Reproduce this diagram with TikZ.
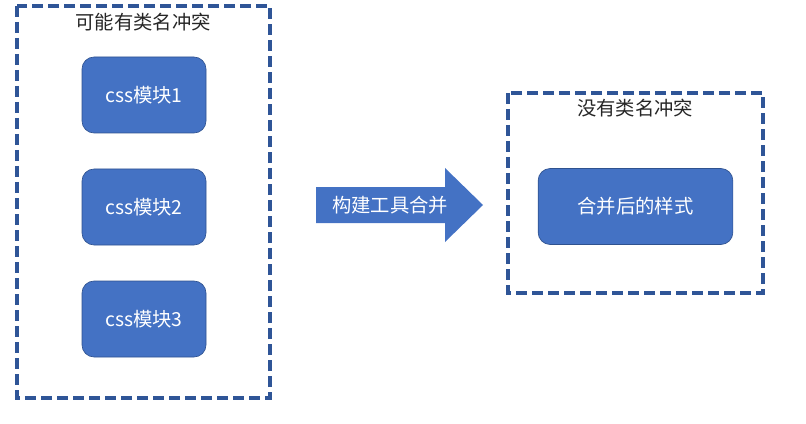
\documentclass[tikz,border=0pt]{standalone}
\usepackage{fontspec}
\setmainfont{Noto Sans CJK SC}
\usetikzlibrary{positioning}
\definecolor{boxblue}{HTML}{4472C4}
\definecolor{edgeblue}{HTML}{2F528F}
\definecolor{dashblue}{HTML}{2F5597}

\begin{document}
\begin{tikzpicture}[x=0.75pt, y=-0.75pt, font=\fontsize{14.5pt}{16pt}\selectfont,
    module/.style={draw=edgeblue, line width=0.5pt, fill=boxblue, text=white,
        rounded corners=9pt, minimum width=93pt, minimum height=57pt},
    group/.style={draw=dashblue, line width=2.6pt, dash pattern=on 8pt off 4pt},
    title/.style={text=black!85}]
    \useasboundingbox (0,0) rectangle (806,424);
    % left group
    \draw[group] (17,6) rectangle (270,398);
    \node[title] (conflict) at (143,22) {可能有类名冲突};
    \node[module] (m1) at (144,95)  {css模块1};
    \node[module] (m2) at (144,207) {css模块2};
    \node[module] (m3) at (144,319) {css模块3};
    % build arrow
    \fill[boxblue] (316,187) -- (445,187) -- (445,168) -- (483,205)
        -- (445,242) -- (445,223) -- (316,223) -- cycle;
    \node[text=white] (build) at (390,205) {构建工具合并};
    % right group
    \draw[group] (508,93) rectangle (763,293);
    \node[title] (noconflict) at (635,108) {没有类名冲突};
    \node[module, minimum width=146pt, minimum height=57pt] (merged) at (635.5,206.5) {合并后的样式};
\end{tikzpicture}
\end{document}
